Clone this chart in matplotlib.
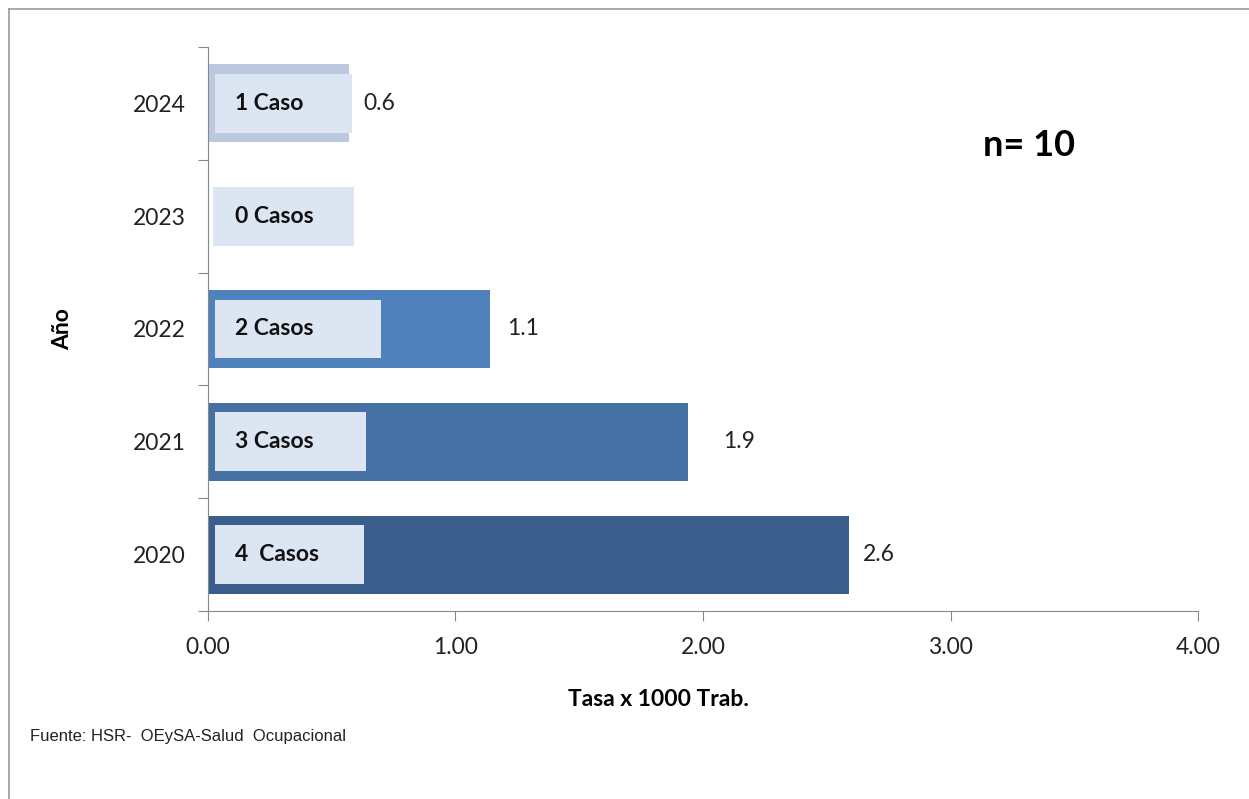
import matplotlib.pyplot as plt
from matplotlib.lines import Line2D
from matplotlib.patches import Rectangle

plt.rcParams["font.family"] = ["Lato", "DejaVu Sans"]

years = ["2020", "2021", "2022", "2023", "2024"]
rates = [2.59, 1.94, 1.14, 0.0, 0.57]
rate_labels = ["2.6", "1.9", "1.1", "", "0.6"]
case_labels = ["4  Casos", "3 Casos", "2 Casos", "0 Casos", "1 Caso"]
n_total = 10

bar_colors = ["#3a5e8c", "#4571a5", "#4f81bd", "#dbe5f1", "#bcc8de"]
box_color = "#dce6f2"
# label box widths in data units, value label offsets in points
box_ends = [0.63, 0.64, 0.70, 0.60, 0.58]
label_pad = [10, 25, 12, 10, 10]

fig = plt.figure(figsize=(12.49, 7.99), dpi=100)
ax = fig.add_axes([0.1665, 0.2353, 0.7927, 0.7059])

y = range(len(years))
ax.barh(y, rates, height=0.69, color=bar_colors, zorder=2)

for i in y:
    box = Rectangle((0.03, i - 0.26), box_ends[i] - 0.03, 0.52,
                    facecolor=box_color, edgecolor="none", zorder=3)
    if i == 3:
        box.set_x(0.02)
    ax.add_patch(box)
    ax.text(0.11, i, case_labels[i], ha="left", va="center",
            fontsize=16.5, fontweight="bold", color="#111111", zorder=4)
    if rate_labels[i]:
        ax.annotate(rate_labels[i], (rates[i], i), xytext=(label_pad[i], 0),
                    textcoords="offset points", ha="left", va="center",
                    fontsize=16.5, color="#222222")

ax.set_xlim(0, 4)
ax.set_ylim(-0.5, 4.5)
ax.set_xticks([0, 1, 2, 3, 4])
ax.set_xticklabels([f"{v:.2f}" for v in [0, 1, 2, 3, 4]], fontsize=16.5,
                   color="#222222")
ax.set_yticks([i - 0.5 for i in range(len(years) + 1)])
ax.set_yticklabels([])
ax.set_yticks(list(y), minor=True)
ax.set_yticklabels(years, minor=True, fontsize=16.5, color="#222222")
ax.tick_params(axis="y", which="minor", length=0, pad=16)
ax.tick_params(axis="y", which="major", length=7, color="#888888")
ax.tick_params(axis="x", length=7, color="#888888", pad=12)

for side in ["top", "right"]:
    ax.spines[side].set_visible(False)
ax.spines["left"].set_color("#888888")
ax.spines["bottom"].set_color("#888888")

fig.text(0.527, 0.124, "Tasa x 1000 Trab.", fontsize=16.5, fontweight="bold",
         ha="center", va="center")
fig.text(0.05, 0.588, "Año", rotation=90, ha="center", va="center",
         fontsize=16.5, fontweight="bold")
fig.text(0.787, 0.818, f"n= {n_total}", fontsize=26, fontweight="bold",
         ha="left", va="center")
fig.text(0.024, 0.0776, "Fuente: HSR-  OEySA-Salud  Ocupacional",
         fontsize=12, family=["Liberation Sans Narrow", "Liberation Sans"],
         ha="left", va="center", color="#222222")

# outer frame (top and left edges only)
fig.add_artist(Line2D([0.0072, 1.0], [0.989, 0.989], color="#999999", lw=1.2))
fig.add_artist(Line2D([0.0072, 0.0072], [0.0, 0.989], color="#999999", lw=1.2))

fig.savefig("out.png", dpi=100)
